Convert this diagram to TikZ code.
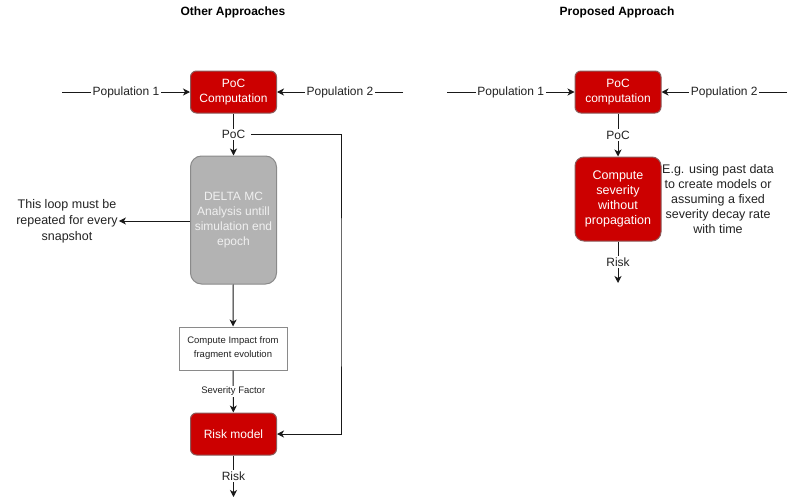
\documentclass[tikz,border=0pt]{standalone}
\usepackage{fontspec}
\setmainfont{Liberation Sans}
\usetikzlibrary{arrows.meta}
\definecolor{redfill}{HTML}{CC0000}
\definecolor{redline}{HTML}{8C5A5A}
\definecolor{grayfill}{HTML}{B3B3B3}
\definecolor{grayline}{HTML}{8A8A8A}
\definecolor{txt}{HTML}{222222}
\tikzset{
  every node/.style={font=\fontsize{12}{15}\selectfont, text=txt, inner sep=1pt},
  redbox/.style={draw=redline, fill=redfill, rounded corners=6pt, line width=1pt, text=white, align=center, minimum width=86pt, inner sep=0pt},
  graybox/.style={draw=grayline, fill=grayfill, rounded corners=11pt, line width=1pt, text=white!94!black, align=center, minimum width=86pt, minimum height=128pt, inner sep=0pt},
  whitebox/.style={draw=grayline, fill=white, line width=1pt, align=center, minimum width=108pt, minimum height=43pt, font=\fontsize{9.5}{14}\selectfont, inner sep=0pt},
  conn/.style={draw=black!90, line width=1pt},
  arr/.style={conn, -{Stealth[length=7pt, width=7pt, inset=2pt]}},
  lab/.style={fill=white, inner sep=1.5pt},
  title/.style={font=\bfseries\fontsize{12}{14}\selectfont, text=black}
}
\begin{document}
\begin{tikzpicture}[x=1pt,y=-1pt]
\useasboundingbox (0,0) rectangle (788,498);
% titles
\node[title] (t1) at (233,12) {Other Approaches};
\node[title] (t2) at (617,12) {Proposed Approach};

% ---------- left ----------
\node[redbox, minimum height=42pt] (pocL) at (233.5,92) {PoC\\Computation};
\node[graybox] (delta) at (233.5,220) {DELTA MC\\Analysis untill\\simulation end\\epoch};
\node[whitebox] (impact) at (233,348.5) {Compute Impact from\\fragment evolution};
\node[redbox, minimum height=42pt] (risk) at (233.5,434) {Risk model};
\node[align=center, font=\fontsize{12.5}{16}\selectfont] (loop) at (67,221) {This loop must be\\repeated for every\\snapshot};

\coordinate (p1L) at (62,92);
\coordinate (p2L) at (403,92);
\coordinate (riskOutL) at (233.5,497);
\coordinate (branch) at (341,300);

\draw[arr] (p1L) -- node[lab] {Population 1} (pocL);
\draw[arr] (p2L) -- node[lab] {Population 2} (pocL);
\draw[arr] (pocL) -- node[lab] (poclabL) {PoC} (delta);
\draw[arr] ([xshift=4pt]poclabL.east) -| (branch) |- (risk);
\draw[arr] (delta.west |- loop) -- (loop.east);
\draw[arr] (delta) -- (impact);
\draw[arr] (impact) -- node[lab, font=\fontsize{9.5}{11}\selectfont] {Severity Factor} (risk);
\draw[arr] (risk) -- node[lab] {Risk} (riskOutL);

% ---------- right ----------
\node[redbox, minimum height=42pt] (pocR) at (618,92) {PoC\\computation};
\node[redbox, minimum height=84pt, rounded corners=9pt, font=\fontsize{12.5}{15}\selectfont] (sev) at (618,199) {Compute\\severity\\without\\propagation};
\node[align=center, anchor=west, font=\fontsize{12.5}{15}\selectfont] (note) at (661,199) {E.g. using past data\\to create models or\\assuming a fixed\\severity decay rate\\with time};

\coordinate (p1R) at (447,92);
\coordinate (p2R) at (787,92);
\coordinate (riskOutR) at (618,283);

\draw[arr] (p1R) -- node[lab] {Population 1} (pocR);
\draw[arr] (p2R) -- node[lab] {Population 2} (pocR);
\draw[arr] (pocR) -- node[lab] {PoC} (sev);
\draw[arr] (sev) -- node[lab] {Risk} (riskOutR);
\end{tikzpicture}
\end{document}
